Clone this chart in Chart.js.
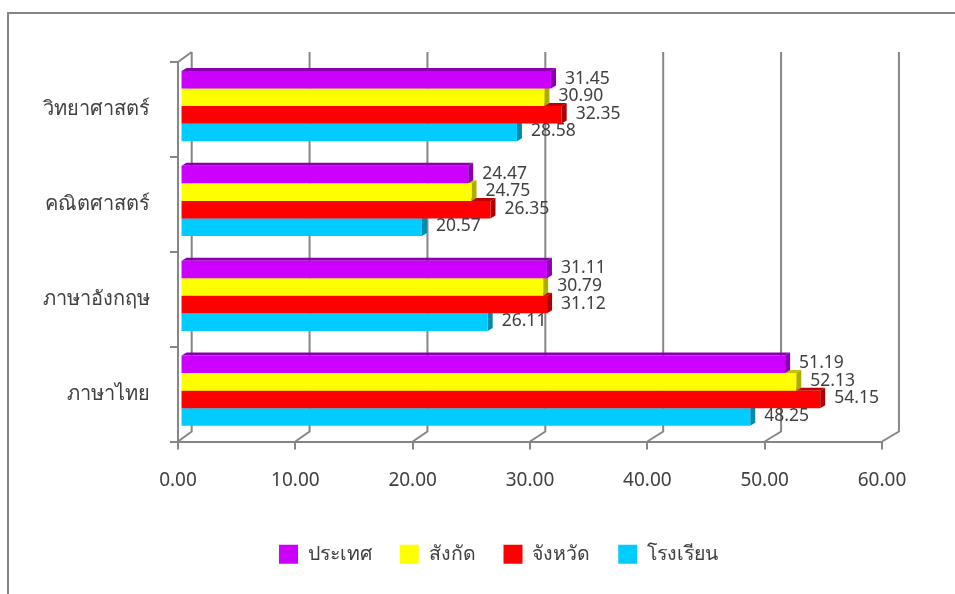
<!DOCTYPE html>
<html>
<head>
<meta charset="utf-8">
<style>
html,body{margin:0;padding:0;background:#fff;}
#wrap{position:relative;width:955px;height:594px;overflow:hidden;}
#frame{position:absolute;left:7px;top:12px;width:960px;height:600px;border:2px solid #868686;box-sizing:border-box;}
canvas{position:absolute;left:0;top:0;}
</style>
<script src="https://cdn.jsdelivr.net/npm/chart.js@4"></script>
</head>
<body>
<div id="wrap"><div id="frame"></div><canvas id="c" width="955" height="594"></canvas></div>
<script>
const subjects = ['วิทยาศาสตร์','คณิตศาสตร์','ภาษาอังกฤษ','ภาษาไทย'];
const country  = [31.45, 24.47, 31.11, 51.19];
const district = [30.90, 24.75, 30.79, 52.13];
const province = [32.35, 26.35, 31.12, 54.15];
const school   = [28.58, 20.57, 26.11, 48.25];
const xTicks   = [0,10,20,30,40,50,60];

const FONT = '"Noto Sans","Open Sans",sans-serif';
const AXIS = '#868686', TEXT = '#404040';
const SHIFT = -3.4, DX = 5, DY = 3, LEGEND_SHIFT = 57.5;
const shade = {
  '#CC00FF':['#8A00AD','#8A00AD'],
  '#FFFF00':['#C4C400','#ADAD00'],
  '#FF0000':['#C00000','#AD0000'],
  '#00CCFF':['#0099C0','#008AAD']
};

const depth3d = {
  id:'depth3d',
  afterLayout(chart){
    chart.legend.left += LEGEND_SHIFT;
    chart.legend.right += LEGEND_SHIFT;
  },
  beforeDatasetsDraw(chart){
    const {ctx,scales:{x,y}} = chart;
    ctx.save();
    ctx.strokeStyle = AXIS; ctx.lineWidth = 2;
    const top = y.top, bot = y.bottom;
    const backX = v => 191.7 + (x.getPixelForValue(v)-x.left)*1.0046;
    ctx.beginPath();
    xTicks.forEach(v=>{
      ctx.moveTo(x.getPixelForValue(v),bot);
      ctx.lineTo(backX(v),bot-10);
      ctx.lineTo(backX(v),top-10);
    });
    ctx.moveTo(x.left,top); ctx.lineTo(backX(0),top-10);
    ctx.stroke();
    ctx.restore();
    ctx.save();
    ctx.translate(0,SHIFT);
  },
  beforeDatasetDraw(chart,args){
    const {ctx} = chart;
    const ds = chart.data.datasets[args.index];
    const [topC,sideC] = shade[ds.backgroundColor];
    args.meta.data.forEach(b=>{
      const t = b.y-b.height/2, bt = b.y+b.height/2, l = b.base, r = b.x;
      ctx.fillStyle = topC;
      ctx.beginPath();
      ctx.moveTo(l,t); ctx.lineTo(l+DX,t-DY); ctx.lineTo(r+DX,t-DY); ctx.lineTo(r,t); ctx.closePath(); ctx.fill();
      ctx.fillStyle = sideC;
      ctx.beginPath();
      ctx.moveTo(r,t); ctx.lineTo(r+DX,t-DY); ctx.lineTo(r+DX,bt-DY); ctx.lineTo(r,bt); ctx.closePath(); ctx.fill();
    });
  },
  afterDatasetsDraw(chart){
    const {ctx} = chart;
    ctx.restore();
    ctx.save();
    ctx.fillStyle = TEXT;
    ctx.font = '17.5px '+FONT;
    ctx.textAlign = 'left'; ctx.textBaseline = 'middle';
    chart.data.datasets.forEach((ds,i)=>{
      chart.getDatasetMeta(i).data.forEach((b,j)=>{
        ctx.fillText(ds.data[j].toFixed(2), b.x+14, b.y+SHIFT-1);
      });
    });
    ctx.restore();
  }
};

const ds = (label,data,color)=>({label,data,backgroundColor:color,xAxisID:'xb',yAxisID:'y',base:0.3,borderWidth:0,clip:false,
  categoryPercentage:0.74,barPercentage:1});

new Chart(document.getElementById('c'),{
  type:'bar',
  plugins:[depth3d],
  data:{labels:subjects,datasets:[
    ds('ประเทศ',country,'#CC00FF'),
    ds('สังกัด',district,'#FFFF00'),
    ds('จังหวัด',province,'#FF0000'),
    ds('โรงเรียน',school,'#00CCFF')
  ]},
  options:{
    indexAxis:'y',responsive:false,animation:false,
    layout:{padding:{left:0,right:73,top:62,bottom:20}},
    scales:{
      x:{type:'linear',position:'bottom',min:0,max:60,
        afterBuildTicks(s){s.ticks=xTicks.map(v=>({value:v}));},
        afterFit(s){s.height=75;},
        grid:{drawOnChartArea:false,drawTicks:true,tickLength:8,color:AXIS,lineWidth:2},
        border:{color:AXIS,width:2},
        ticks:{color:TEXT,font:{size:19,family:FONT},padding:20,maxRotation:0,callback:v=>v.toFixed(2)}
      },
      xb:{type:'linear',display:false,position:'bottom',min:0,max:59.36},
      y:{type:'category',position:'left',offset:true,
        afterFit(s){s.width=178;},
        grid:{drawOnChartArea:false,drawTicks:true,tickLength:8,color:AXIS,lineWidth:2,offset:true},
        border:{color:AXIS,width:2},
        ticks:{color:TEXT,font:{size:20,family:FONT},padding:20}
      }
    },
    plugins:{
      title:{display:false},tooltip:{enabled:false},
      legend:{display:true,position:'bottom',
        labels:{boxWidth:19,boxHeight:19,padding:28,color:TEXT,font:{size:19.5,family:FONT}}}
    }
  }
});
</script>
</body>
</html>
